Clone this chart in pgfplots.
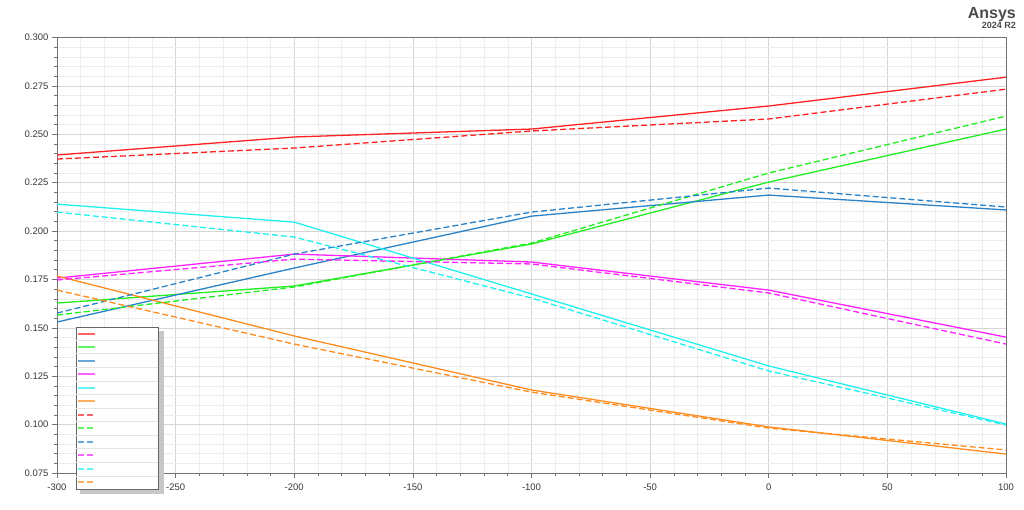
\documentclass[border=0pt]{standalone}
\usepackage{fontspec}
\setmainfont{Liberation Sans}
\usepackage{pgfplots}
\pgfplotsset{compat=1.18}
\usetikzlibrary{calc}
\definecolor{cred}{HTML}{FF2222}
\definecolor{cgreen}{HTML}{22EE22}
\definecolor{cblue}{HTML}{2A82C8}
\definecolor{cmag}{HTML}{FF22FF}
\definecolor{ccyan}{HTML}{22F0F0}
\definecolor{corange}{HTML}{FF8C1E}
\newcommand{\lgE}{\rule[-4pt]{0pt}{8pt}\makebox[58pt][l]{}}
\begin{document}
\begin{tikzpicture}
\begin{axis}[
  name=ax,
  scale only axis, width=949pt, height=435.5pt,
  xmin=-300, xmax=100, ymin=0.075, ymax=0.300,
  xtick={-300,-250,...,100},
  ytick={0.075,0.100,...,0.300},
  minor x tick num=4, minor y tick num=4,
  grid=both,
  major grid style={draw=black!16, line width=0.6pt},
  minor grid style={draw=black!7, line width=0.5pt},
  axis line style={draw=black!55, line width=0.8pt},
  tick style={draw=black!55, line width=0.6pt},
  tick align=outside,
  major tick length=5pt, minor tick length=3pt,
  xtick pos=bottom, ytick pos=left,
  tick label style={font=\fontsize{9.5}{10}\selectfont, text=black!78},
  xticklabel style={yshift=-2pt},
  /pgf/number format/assume math mode=true,
  yticklabel style={/pgf/number format/fixed, /pgf/number format/fixed zerofill, /pgf/number format/precision=3},
  scaled y ticks=false,
  every axis plot/.append style={line width=1.3pt},
  legend style={name=leg, at={(rel axis cs:0.0195,0.336)}, anchor=north west, draw=black!60, line width=0.8pt, fill=white,
    inner xsep=1pt, inner ysep=0pt, row sep=0pt,
    nodes={inner xsep=2pt, inner ysep=0pt, minimum height=13.5pt, font=\fontsize{9}{10}\selectfont}},
  legend image code/.code={\draw[#1, line width=1.7pt, opacity=0.7] (0pt,0pt) -- (17pt,0pt);},
  legend cell align=left,
]
\addplot[cred] coordinates {(-300,0.2393) (-200,0.2486) (-100,0.2527) (0,0.2646) (100,0.2795)};
\addplot[cgreen] coordinates {(-300,0.1628) (-200,0.1716) (-100,0.1933) (0,0.2253) (100,0.2527)};
\addplot[cblue] coordinates {(-300,0.1530) (-200,0.1809) (-100,0.2077) (0,0.2186) (100,0.2109)};
\addplot[cmag] coordinates {(-300,0.1757) (-200,0.1881) (-100,0.1840) (0,0.1695) (100,0.1452)};
\addplot[ccyan] coordinates {(-300,0.2139) (-200,0.2046) (-100,0.1675) (0,0.1303) (100,0.1003)};
\addplot[corange] coordinates {(-300,0.1768) (-200,0.1458) (-100,0.1179) (0,0.0988) (100,0.0848)};
\addplot[cred, dash pattern=on 6pt off 3pt] coordinates {(-300,0.2372) (-200,0.2429) (-100,0.2517) (0,0.2579) (100,0.2733)};
\addplot[cgreen, dash pattern=on 6pt off 3pt] coordinates {(-300,0.1566) (-200,0.1711) (-100,0.1938) (0,0.2300) (100,0.2594)};
\addplot[cblue, dash pattern=on 6pt off 3pt] coordinates {(-300,0.1576) (-200,0.1881) (-100,0.2098) (0,0.2222) (100,0.2124)};
\addplot[cmag, dash pattern=on 6pt off 3pt] coordinates {(-300,0.1747) (-200,0.1855) (-100,0.1830) (0,0.1680) (100,0.1416)};
\addplot[ccyan, dash pattern=on 6pt off 3pt] coordinates {(-300,0.2098) (-200,0.1969) (-100,0.1654) (0,0.1277) (100,0.0998)};
\addplot[corange, dash pattern=on 6pt off 3pt] coordinates {(-300,0.1695) (-200,0.1416) (-100,0.1168) (0,0.0982) (100,0.0869)};
\legend{\lgE,\lgE,\lgE,\lgE,\lgE,\lgE,\lgE,\lgE,\lgE,\lgE,\lgE,\lgE}
\end{axis}
\foreach \i in {1,...,11} {
  \draw[black!10, line width=0.7pt] ($(leg.north west)!\i/12!(leg.south west)+(0.6pt,0)$) -- ($(leg.north east)!\i/12!(leg.south east)+(-0.6pt,0)$);
}
\fill[black!22] ([shift={(0.4pt,-4pt)}]leg.north east) rectangle ([shift={(4.5pt,-4.5pt)}]leg.south east);
\fill[black!22] ([shift={(4pt,-0.4pt)}]leg.south west) rectangle ([shift={(4.5pt,-4.5pt)}]leg.south east);
\path ([shift={(-57pt,-36pt)}]ax.south west) rectangle ([shift={(18pt,37.5pt)}]ax.north east);
\node[anchor=base east, font=\bfseries\fontsize{16}{16}\selectfont, text=black!70, inner sep=0pt] at ([shift={(10pt,18.5pt)}]ax.north east) {Ansys};
\node[anchor=base east, font=\bfseries\fontsize{9}{9}\selectfont, text=black!70, inner sep=0pt] at ([shift={(10pt,8.5pt)}]ax.north east) {2024 R2};
\end{tikzpicture}
\end{document}
